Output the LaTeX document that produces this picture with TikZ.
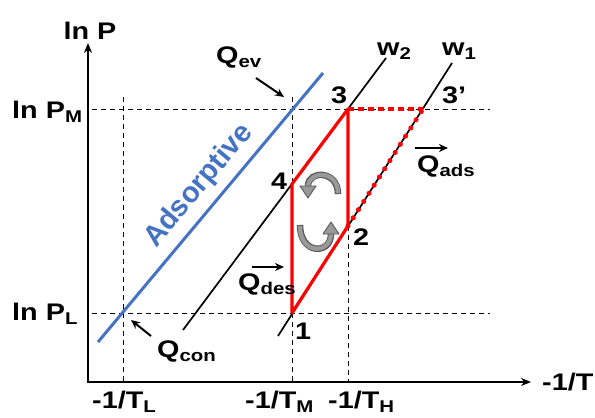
\documentclass[tikz,border=0pt]{standalone}
\usepackage{fontspec}
\setmainfont{Liberation Sans}
\newfontfamily\lblfont[FakeStretch=1.2]{Liberation Sans}
\usetikzlibrary{arrows.meta}
\newcommand{\lowsub}[1]{\raisebox{-4.5pt}{\fontsize{17}{17}\selectfont #1}}
\definecolor{adsblue}{RGB}{68,114,196}
\definecolor{cycred}{RGB}{255,0,0}
\begin{document}
\begin{tikzpicture}[x=1pt,y=-1pt,
  lbl/.style={font=\lblfont\fontsize{24}{26}\selectfont\bfseries, inner sep=0pt, anchor=base west},
  axisline/.style={line width=2.2pt},
  guide/.style={line width=0.9pt, dash pattern=on 5pt off 4pt},
  iso/.style={line width=1.7pt},
  cyc/.style={cycred, line width=3.2pt, line join=round},
  cycsq/.style={cycred, line width=4pt, dash pattern=on 6pt off 4pt},
  cycdot/.style={cycred, line width=5pt, line cap=round, dash pattern=on 0.1pt off 9.6pt},
  qarrow/.style={line width=2pt, -{Stealth[length=9pt,width=8pt]}},
  turnout/.style={line width=6.5pt, black!65},
  turnin/.style={line width=4.3pt, black!40},
  turnhead/.style={fill=black!40, draw=black!65, line width=0.9pt, line join=round}
]
\useasboundingbox (0,0) rectangle (595,418);

% coordinates
\coordinate (O) at (88,382);
\coordinate (Ytip) at (88,43);
\coordinate (Xtip) at (531,382);
\coordinate (p1) at (292,313);
\coordinate (p2) at (348,226);
\coordinate (p3) at (348,109);
\coordinate (p4) at (292,184);
\coordinate (p3p) at (423,109);

% guides
\coordinate (hMa) at (92,109);  \coordinate (hMb) at (490,109);
\coordinate (hLa) at (92,313);  \coordinate (hLb) at (490,313);
\coordinate (vLa) at (123,97);  \coordinate (vLb) at (123,382);
\coordinate (vMa) at (292,97);  \coordinate (vMb) at (292,382);
\coordinate (vHb) at (348,382);
\draw[guide] (hMa) -- (hMb);
\draw[guide] (hLa) -- (hLb);
\draw[guide] (vLa) -- (vLb);
\draw[guide] (vMa) -- (vMb);
\draw[guide] (p3) -- (vHb);

% axes
\draw[axisline, {Stealth[length=10pt,width=8pt]}-{Stealth[length=10pt,width=8pt]}] (Ytip) -- (O) -- (Xtip);

% adsorptive line
\coordinate (b1) at (98,342); \coordinate (b2) at (323,73);
\draw[adsblue, line width=3pt] (b1) -- (b2);

% isosteres
\coordinate (w2a) at (183,330); \coordinate (w2b) at (386,58);
\coordinate (w1a) at (278,336); \coordinate (w1b) at (452,63);
\draw[iso] (w2a) -- (w2b);
\draw[iso] (w1a) -- (w1b);

% cycle
\draw[cycsq] (p3) -- (p3p);
\draw[cycdot] (p2) -- (p3p);
\draw[cyc] (p1) -- (p2) -- (p3) -- (p4) -- cycle;

% turning arrows
\draw[turnout] (338,194) .. controls (338,170) and (308,170) .. (308,186);
\draw[turnin] (338,193) .. controls (338,170) and (308,170) .. (308,187);
\draw[turnhead] (308,198) -- (300,186) -- (316,186) -- cycle;
\draw[turnout] (300,225) .. controls (300,255) and (331,255) .. (331,234);
\draw[turnin] (300,226) .. controls (300,255) and (331,255) .. (331,233);
\draw[turnhead] (331,222) -- (323,234) -- (339,234) -- cycle;

% labels
\node[lbl, anchor=base] (lnP) at (90,39) {ln P};
\node[lbl] (lnPM) at (12,118) {ln P\lowsub{M}};
\node[lbl] (lnPL) at (12,320) {ln P\lowsub{L}};
\node[lbl] (w2) at (377,55) {w\lowsub{2}};
\node[lbl] (w1) at (442,55) {w\lowsub{1}};
\node[lbl] (n3) at (331,103) {3};
\node[lbl] (n3p) at (442,103) {3’};
\node[lbl] (n4) at (271,189) {4};
\node[lbl] (n2) at (353,245) {2};
\node[lbl] (n1) at (295,339) {1};
\node[lbl] (TL) at (92,408) {-1/T\lowsub{L}};
\node[lbl] (TM) at (245,408) {-1/T\lowsub{M}};
\node[lbl] (TH) at (328,408) {-1/T\lowsub{H}};
\node[lbl] (T) at (542,390) {-1/T};
\node[lbl] (Qev) at (216,63) {Q\lowsub{ev}};
\node[lbl] (Qads) at (417,172) {Q\lowsub{ads}};
\node[lbl] (Qdes) at (238,290) {Q\lowsub{des}};
\node[lbl] (Qcon) at (157,357) {Q\lowsub{con}};
\node[font=\fontsize{29}{31}\selectfont\bfseries, text=adsblue, rotate=50, inner sep=0pt] (ads) at (199,186) {Adsorptive};

% Q arrows
\coordinate (qev1) at (256,78); \coordinate (qev2) at (284,97);
\draw[qarrow] (qev1) -- (qev2);
\coordinate (qads1) at (415,148); \coordinate (qads2) at (448,148);
\draw[qarrow] (qads1) -- (qads2);
\coordinate (qdes1) at (252,267); \coordinate (qdes2) at (284,267);
\draw[qarrow] (qdes1) -- (qdes2);
\coordinate (qcon1) at (151,336); \coordinate (qcon2) at (131,320);
\draw[qarrow] (qcon1) -- (qcon2);
\end{tikzpicture}
\end{document}
